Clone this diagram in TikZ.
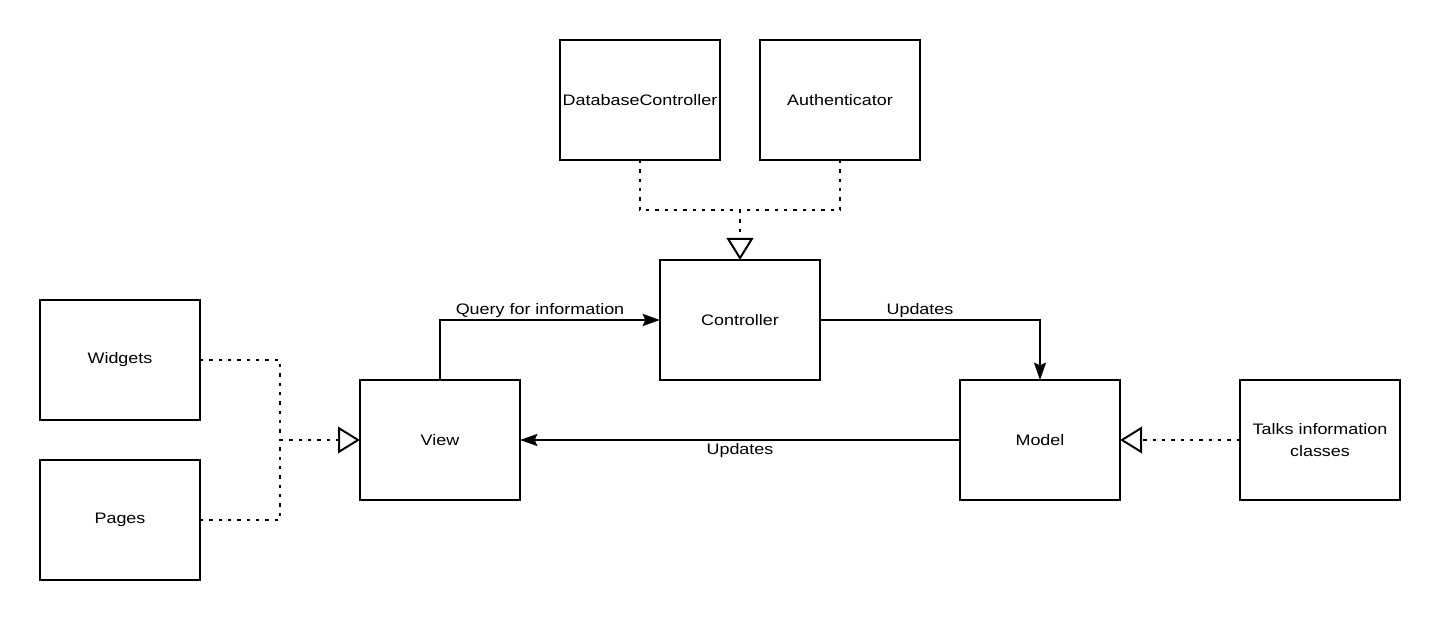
\documentclass[tikz,border=0pt]{standalone}
\usepackage{fontspec}
\setmainfont{Liberation Sans}[FakeStretch=1.18]
\usetikzlibrary{arrows.meta}
\begin{document}
\begin{tikzpicture}[x=0.75pt,y=-0.75pt,
  box/.style={draw,line width=1.5pt,minimum width=120pt,minimum height=90pt,inner sep=0pt,outer sep=0pt,align=center,font=\fontsize{11.4pt}{16.5pt}\selectfont},
  lbl/.style={font=\fontsize{11.4pt}{16.5pt}\selectfont,inner sep=0pt},
  dep/.style={line width=1.5pt,dash pattern=on 2.5pt off 4.5pt},
  opentip/.style={-{Triangle[open,length=16.5pt,width=20pt,line width=1.5pt]}},
  flow/.style={line width=1.5pt,-{Stealth[length=13pt,width=9pt,inset=2pt]}}]
\useasboundingbox (0,0) rectangle (1440,620);
\node[box] (db) at (640,100) {DatabaseController};
\node[box] (auth) at (840,100) {Authenticator};
\node[box] (ctrl) at (740,320) {Controller};
\node[box] (wid) at (120,360) {Widgets};
\node[box] (pages) at (120,520) {Pages};
\node[box] (view) at (440,440) {View};
\node[box] (model) at (1040,440) {Model};
\node[box] (talks) at (1320,440) {Talks information\\classes};
\coordinate (j1) at (740,210);
\coordinate (j2) at (280,440);
\draw[dep] (db.south) |- (j1);
\draw[dep] (auth.south) |- (j1);
\draw[dep,opentip] (j1) -- (ctrl.north);
\draw[dep] (wid.east) -| (j2);
\draw[dep] (pages.east) -| (j2);
\draw[dep,opentip] (j2) -- (view.west);
\draw[dep,opentip] (talks.west) -- (model.east);
\draw[flow] (view.north) |- (ctrl.west);
\draw[flow] (ctrl.east) -| (model.north);
\draw[flow] (model.west) -- (view.east);
\node[lbl] (q) at (540,310.5) {Query for information};
\node[lbl] (u1) at (920,310.5) {Updates};
\node[lbl] (u2) at (740,450.5) {Updates};
\end{tikzpicture}
\end{document}
